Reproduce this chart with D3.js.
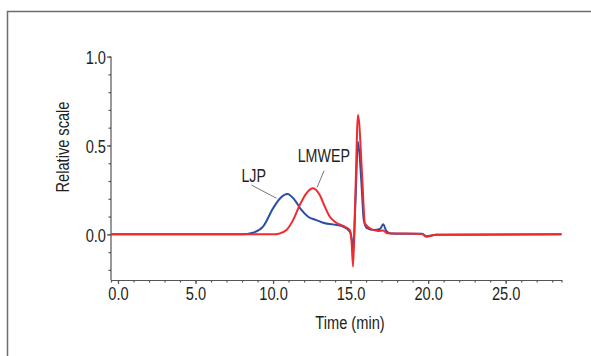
<!DOCTYPE html>
<html>
<head>
<meta charset="utf-8">
<script src="https://cdn.jsdelivr.net/npm/d3@7"></script>
<style>
  html, body { margin: 0; padding: 0; background: #fff; }
  svg text { font-family: "Liberation Sans", Arial, sans-serif; fill: #231f20; }
</style>
</head>
<body>
<svg id="chart" width="591" height="356"></svg>
<script>
// Elution profiles (relative detector response vs. retention time)
const ljpTime  = [-0.45, 8.0, 8.7, 9.35, 10.0, 10.43, 10.93, 11.4, 11.83, 12.26, 12.8, 13.34, 13.87, 14.52, 14.95, 15.08, 15.16, 15.3, 15.48, 15.7, 15.85, 16.05, 16.5, 16.9, 17.1, 17.3, 17.6, 19.6, 19.9, 20.5, 28.6];
const ljpValue = [0.0, 0.0, 0.009, 0.043, 0.146, 0.2, 0.227, 0.193, 0.137, 0.099, 0.08, 0.062, 0.056, 0.043, 0.015, -0.03, -0.098, 0.15, 0.521, 0.287, 0.08, 0.035, 0.024, 0.03, 0.056, 0.02, 0.004, 0.003, -0.011, -0.002, 0.0];

const lmwepTime  = [-0.45, 10.0, 10.43, 10.86, 11.29, 11.72, 12.15, 12.58, 13.01, 13.34, 13.66, 14.09, 14.52, 14.95, 15.06, 15.16, 15.3, 15.48, 15.75, 15.92, 16.24, 16.77, 17.1, 17.35, 19.6, 19.9, 20.5, 28.6];
const lmwepValue = [0.0, 0.0, 0.005, 0.024, 0.08, 0.165, 0.231, 0.259, 0.221, 0.155, 0.099, 0.065, 0.047, 0.024, -0.04, -0.182, 0.2, 0.671, 0.32, 0.062, 0.034, 0.019, 0.022, 0.006, 0.002, -0.014, -0.002, 0.0];

const xTickValues = [0, 5, 10, 15, 20, 25];
const xTickLabels = ["0.0", "5.0", "10.0", "15.0", "20.0", "25.0"];
const yTickValues = [0, 0.5, 1.0];
const yTickLabels = ["0.0", "0.5", "1.0"];

const seriesNames  = ["LJP", "LMWEP"];
const seriesColors = ["#2b4fa6", "#ee2b2e"];

// Series name callouts: label anchor and leader line, in data units
const calloutText = [[8.75, 0.296], [13.27, 0.409]];
const calloutLine = [[[8.61, 0.277], [10.22, 0.203]], [[13.29, 0.358], [12.84, 0.264]]];

const FONT = 19;
const SQUEEZE = 0.77; // horizontal compression for a condensed look

// compress a text element horizontally around its own x anchor
function condense(sel) {
  sel.each(function () {
    const t = d3.select(this);
    const x0 = +t.attr("x") || 0;
    const base = t.attr("data-base") || "";
    t.attr("x", 0)
     .attr("transform", `${base} translate(${x0},0) scale(${SQUEEZE},1)`);
  });
}

const svg = d3.select("#chart");

// outer panel frame
svg.append("rect")
  .attr("x", 7.5).attr("y", 11.5)
  .attr("width", 620).attr("height", 400)
  .attr("fill", "none").attr("stroke", "#6d6d6d").attr("stroke-width", 1.5);

const x = d3.scaleLinear().domain([-0.45, 28.6]).range([111, 561.5]);
const y = d3.scaleLinear().domain([-0.257, 1.0]).range([280, 56.6]);

const axisColor = "#555";

// x axis: minor ticks every minute, labelled majors every 5
const xAxisG = svg.append("g").attr("transform", `translate(0,${y.range()[0]})`);
xAxisG.call(d3.axisBottom(x).tickValues(d3.range(0, 29, 1)).tickSize(2.5).tickFormat(""));
const xMaj = svg.append("g").attr("transform", `translate(0,${y.range()[0]})`)
  .call(d3.axisBottom(x).tickValues(xTickValues).tickSize(4)
    .tickFormat((d, i) => xTickLabels[i]));
xMaj.select(".domain").remove();
xMaj.selectAll("text").attr("font-size", FONT).attr("dy", "0.8em").attr("y", 4.5).call(condense);
[xAxisG, xMaj].forEach(g => {
  g.selectAll("path,line").attr("stroke", axisColor).attr("stroke-width", 1.2);
});

// y axis: minor ticks every 0.1
const yAxisG = svg.append("g").attr("transform", `translate(${x.range()[0]},0)`);
yAxisG.call(d3.axisLeft(y).tickValues(d3.range(-2, 11).map(k => k / 10)).tickSize(2.5).tickFormat(""));
yAxisG.select(".domain").attr("d", `M0,${y.range()[0]}V${y(1.0)}`);
const yMaj = svg.append("g").attr("transform", `translate(${x.range()[0]},0)`)
  .call(d3.axisLeft(y).tickValues(yTickValues).tickSize(4)
    .tickFormat((d, i) => yTickLabels[i]));
yMaj.select(".domain").remove();
yMaj.selectAll("text").attr("font-size", FONT).attr("x", -5).attr("dy", "0.36em").call(condense);
[yAxisG, yMaj].forEach(g => {
  g.selectAll("path,line").attr("stroke", axisColor).attr("stroke-width", 1.2);
});

// axis titles
svg.append("text")
  .attr("x", 350).attr("y", 329)
  .attr("text-anchor", "middle").attr("font-size", FONT)
  .text("Time (min)").call(condense);
svg.append("text")
  .attr("data-base", "translate(69,147) rotate(-90)")
  .attr("text-anchor", "middle").attr("font-size", FONT)
  .text("Relative scale").call(condense);

// traces
const line = d3.line()
  .x(d => x(d[0]))
  .y(d => y(d[1]))
  .curve(d3.curveMonotoneX);

const series = [
  d3.zip(ljpTime, ljpValue),
  d3.zip(lmwepTime, lmwepValue)
];

series.forEach((pts, i) => {
  svg.append("path")
    .datum(pts)
    .attr("fill", "none")
    .attr("stroke", seriesColors[i])
    .attr("stroke-width", 2)
    .attr("stroke-linejoin", "round")
    .attr("d", line);
});

// callouts
seriesNames.forEach((name, i) => {
  const seg = calloutLine[i];
  svg.append("line")
    .attr("x1", x(seg[0][0])).attr("y1", y(seg[0][1]))
    .attr("x2", x(seg[1][0])).attr("y2", y(seg[1][1]))
    .attr("stroke", "#555").attr("stroke-width", 0.8);
  svg.append("text")
    .attr("x", x(calloutText[i][0])).attr("y", y(calloutText[i][1]))
    .attr("text-anchor", "middle").attr("font-size", 18.5)
    .text(name).call(condense);
});
</script>
</body>
</html>
